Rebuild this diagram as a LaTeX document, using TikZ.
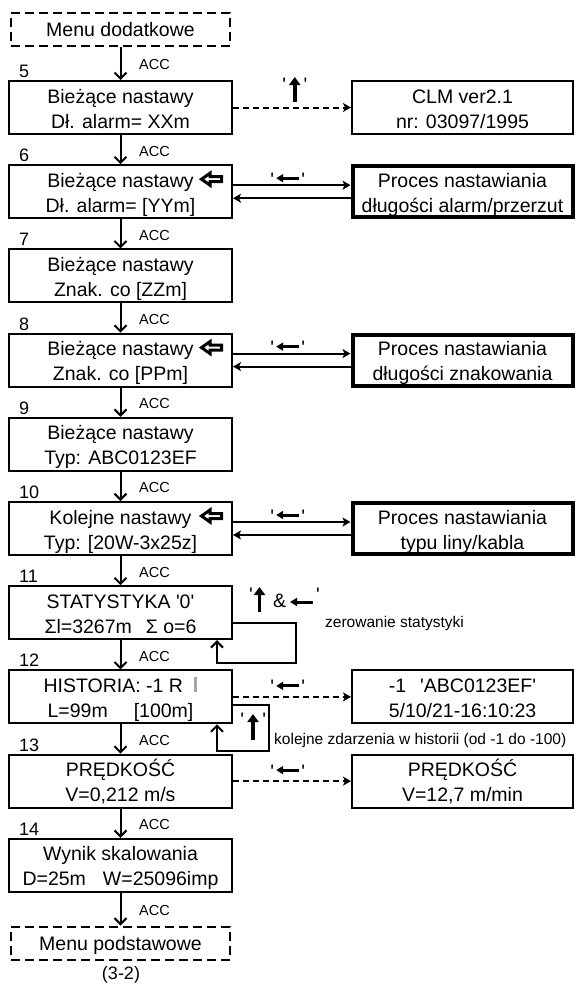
\documentclass[tikz,border=0pt]{standalone}
\usepackage{fontspec}
\setmainfont{Liberation Sans}
\usetikzlibrary{arrows.meta,calc}

\newcommand\sq{\textquotesingle}
% two display lines with fixed vertical metrics
\newcommand\twolines[2]{\raisebox{0pt}[16pt][0pt]{#1}\\\raisebox{0pt}[\height][0pt]{#2}}
\newcommand\oneline[1]{\raisebox{0pt}[14.2pt][0pt]{#1}}

\tikzset{
  screen/.style={draw, line width=2pt, minimum width=223pt, minimum height=53pt,
    inner sep=0pt, align=center, font=\fontsize{19.5}{25}\selectfont},
  rscreen/.style={screen, minimum width=221pt},
  procbox/.style={screen, line width=4pt, minimum width=220pt, minimum height=51pt},
  menubox/.style={screen, dash pattern=on 9pt off 5pt, minimum width=219pt, minimum height=33pt},
  acclbl/.style={anchor=west, font=\fontsize{14.5}{17}\selectfont, inner sep=0pt},
  numlbl/.style={anchor=base west, font=\fontsize{18}{20}\selectfont, inner sep=0pt},
  notelbl/.style={anchor=west, font=\fontsize{15.5}{18}\selectfont, inner sep=0pt},
  quotelbl/.style={anchor=base west, font=\fontsize{19.5}{22}\selectfont, inner sep=0pt},
  accarrow/.style={line width=2pt, -{Straight Barb[length=6pt,width=12pt]}},
  sidearrow/.style={line width=2pt, -{Stealth[length=8pt,width=9pt,inset=2pt]}},
  dotarrow/.style={sidearrow, dash pattern=on 6pt off 4pt},
  looparrow/.style={line width=2pt, -{Straight Barb[length=6pt,width=12pt]}},
  keyup/.style={line width=3.5pt, -{Triangle[length=8pt,width=11pt]}},
  keyleft/.style={line width=3pt, -{Triangle[length=7pt,width=8pt]}},
  editmark/.style={line width=3pt, fill=white, line join=miter},
}

\begin{document}
\begin{tikzpicture}[x=1pt,y=-1pt]
\fill[white] (0,0) rectangle (576,985);
\useasboundingbox (0,0) rectangle (576,985);

% main menu column
\node[menubox] (m1) at (120.5,29.5) {\oneline{Menu dodatkowe}};
\node[screen] (b5) at (120.5,107.5) {\twolines{Bieżące nastawy}{Dł. alarm= XXm}};
\node[screen] (b6) at (120.5,191.7) {\twolines{Bieżące nastawy}{Dł. alarm= [YYm]}};
\node[screen] (b7) at (120.5,275.9) {\twolines{Bieżące nastawy}{Znak. co [ZZm]}};
\node[screen] (b8) at (120.5,360.1) {\twolines{Bieżące nastawy}{Znak. co [PPm]}};
\node[screen] (b9) at (120.5,444.3) {\twolines{Bieżące nastawy}{Typ: ABC0123EF}};
\node[screen] (b10) at (120.5,528.5) {\twolines{Kolejne nastawy}{Typ: [20W-3x25z]}};
\node[screen] (b11) at (120.5,612.7) {\twolines{STATYSTYKA \sq0\sq}{Σl=3267m\hspace{14pt}Σ o=6}};
\node[screen] (b12) at (120.5,696.9) {\twolines{HISTORIA: -1 R\hspace{11pt}{\color{gray!70}\rule{3.5pt}{15pt}}}{L=99m\hspace{26pt}[100m]}};
\node[screen] (b13) at (120.5,781.1) {\twolines{PRĘDKOŚĆ}{V=0,212 m/s}};
\node[screen] (b14) at (120.5,865.3) {\twolines{Wynik skalowania}{D=25m\hspace{17pt}W=25096imp}};
\node[menubox] (m2) at (120.5,943) {\oneline{Menu podstawowe}};
\node[inner sep=0pt, font=\fontsize{18}{20}\selectfont] (ref) at (121,975) {(3-2)};

% screen numbers
\node[numlbl] (n5) at (19,77.5) {5};
\node[numlbl] (n6) at (19,161.7) {6};
\node[numlbl] (n7) at (19,245.9) {7};
\node[numlbl] (n8) at (19,330.1) {8};
\node[numlbl] (n9) at (19,414.3) {9};
\node[numlbl] (n10) at (19,498.5) {10};
\node[numlbl] (n11) at (19,582.7) {11};
\node[numlbl] (n12) at (19,666.9) {12};
\node[numlbl] (n13) at (19,751.1) {13};
\node[numlbl] (n14) at (19,835.3) {14};

% ACC transitions
\draw[accarrow] (m1.south) -- (b5.north);
\draw[accarrow] (b5.south) -- (b6.north);
\draw[accarrow] (b6.south) -- (b7.north);
\draw[accarrow] (b7.south) -- (b8.north);
\draw[accarrow] (b8.south) -- (b9.north);
\draw[accarrow] (b9.south) -- (b10.north);
\draw[accarrow] (b10.south) -- (b11.north);
\draw[accarrow] (b11.south) -- (b12.north);
\draw[accarrow] (b12.south) -- (b13.north);
\draw[accarrow] (b13.south) -- (b14.north);
\draw[accarrow] (b14.south) -- (m2.north);

\node[acclbl] (a5) at ($(m1.south)!.5!(b5.north)+(18.5,1.5)$) {ACC};
\node[acclbl] (a6) at ($(b5.south)!.5!(b6.north)+(18.5,1.5)$) {ACC};
\node[acclbl] (a7) at ($(b6.south)!.5!(b7.north)+(18.5,1.5)$) {ACC};
\node[acclbl] (a8) at ($(b7.south)!.5!(b8.north)+(18.5,1.5)$) {ACC};
\node[acclbl] (a9) at ($(b8.south)!.5!(b9.north)+(18.5,1.5)$) {ACC};
\node[acclbl] (a10) at ($(b9.south)!.5!(b10.north)+(18.5,1.5)$) {ACC};
\node[acclbl] (a11) at ($(b10.south)!.5!(b11.north)+(18.5,1.5)$) {ACC};
\node[acclbl] (a12) at ($(b11.south)!.5!(b12.north)+(18.5,1.5)$) {ACC};
\node[acclbl] (a13) at ($(b12.south)!.5!(b13.north)+(18.5,1.5)$) {ACC};
\node[acclbl] (a14) at ($(b13.south)!.5!(b14.north)+(18.5,1.5)$) {ACC};
\node[acclbl] (a15) at ($(b14.south)!.5!(m2.north)+(18.5,1.5)$) {ACC};

% edit markers (hollow left arrows)
\draw[editmark] ($(b6.north east)+(-31.5,15)$) -- ++(8.5,-6) -- ++(0,3.5) -- ++(11.5,0) -- ++(0,5) -- ++(-11.5,0) -- ++(0,3.5) -- cycle;
\draw[editmark] ($(b8.north east)+(-31.5,15)$) -- ++(8.5,-6) -- ++(0,3.5) -- ++(11.5,0) -- ++(0,5) -- ++(-11.5,0) -- ++(0,3.5) -- cycle;
\draw[editmark] ($(b10.north east)+(-31.5,15)$) -- ++(8.5,-6) -- ++(0,3.5) -- ++(11.5,0) -- ++(0,5) -- ++(-11.5,0) -- ++(0,3.5) -- cycle;

% side screens
\node[rscreen] (clm) at (462.5,107.5) {\twolines{CLM ver2.1}{nr: 03097/1995}};
\node[procbox] (p6) at (462.5,191.7) {\twolines{Proces nastawiania}{długości alarm/przerzut}};
\node[procbox] (p8) at (462.5,360.1) {\twolines{Proces nastawiania}{długości znakowania}};
\node[procbox] (p10) at (462.5,528.5) {\twolines{Proces nastawiania}{typu liny/kabla}};
\node[rscreen] (hist) at (462.5,696.9) {\twolines{-1\hspace{14pt}\sq ABC0123EF\sq}{5/10/21-16:10:23}};
\node[rscreen] (spd) at (462.5,781.1) {\twolines{PRĘDKOŚĆ}{V=12,7 m/min}};

% side transitions
\draw[dotarrow] (b5.east) -- (clm.west);
\draw[sidearrow] ($(b6.east)+(0,-6.5)$) -- ($(p6.west)+(0,-6.5)$);
\draw[sidearrow] ($(p6.west)+(0,6.5)$) -- ($(b6.east)+(0,6.5)$);
\draw[sidearrow] ($(b8.east)+(0,-6.5)$) -- ($(p8.west)+(0,-6.5)$);
\draw[sidearrow] ($(p8.west)+(0,6.5)$) -- ($(b8.east)+(0,6.5)$);
\draw[sidearrow] ($(b10.east)+(0,-6.5)$) -- ($(p10.west)+(0,-6.5)$);
\draw[sidearrow] ($(p10.west)+(0,6.5)$) -- ($(b10.east)+(0,6.5)$);
\draw[dotarrow] (b12.east) -- (hist.west);
\draw[dotarrow] (b13.east) -- (spd.west);

% self loops
\draw[looparrow] ($(b11.east)+(0,10)$) -- ++(63,0) -- ++(0,40) -| ($(b11.south east)+(-16,0)$);
\draw[looparrow] ($(b12.east)+(0,8)$) -- ++(36,0) -- ++(0,46) -| ($(b12.south east)+(-16,0)$);

% key hints
\node[quotelbl] (k5) at (282.1,91) {\sq\hspace{17.5pt}\sq};
\draw[keyup] ($(k5.base)+(0,11)$) -- ++(0,-25);

\node[quotelbl] (k6) at (270.1,186.2) {\sq\hspace{27.3pt}\sq};
\draw[keyleft] ($(k6.base)+(11.5,-8)$) -- ++(-23,0);
\node[quotelbl] (k8) at (270.1,354.6) {\sq\hspace{27.3pt}\sq};
\draw[keyleft] ($(k8.base)+(11.5,-8)$) -- ++(-23,0);
\node[quotelbl] (k10) at (270.1,523) {\sq\hspace{27.3pt}\sq};
\draw[keyleft] ($(k10.base)+(11.5,-8)$) -- ++(-23,0);
\node[quotelbl] (k12) at (270.1,693.9) {\sq\hspace{27.3pt}\sq};
\draw[keyleft] ($(k12.base)+(11.5,-8)$) -- ++(-23,0);
\node[quotelbl] (k13) at (270.1,778.1) {\sq\hspace{27.3pt}\sq};
\draw[keyleft] ($(k13.base)+(11.5,-8)$) -- ++(-23,0);

\node[quotelbl] (k11) at (249,601) {\sq\hspace{20.3pt}\raisebox{-6pt}{\&}\hspace{30pt}\sq};
\draw[keyup] ($(k11.base west)+(10.5,11)$) -- ++(0,-25);
\draw[keyleft] ($(k11.base west)+(64,1)$) -- ++(-23,0);

\node[quotelbl] (k12u) at (240.1,726.7) {\sq\hspace{18.3pt}\sq};
\draw[keyup] ($(k12u.base west)+(12.9,13.3)$) -- ++(0,-26);

% notes
\node[notelbl] (t11) at (325,623) {zerowanie statystyki};
\node[notelbl] (t12) at (274,740) {kolejne zdarzenia w historii (od -1 do -100)};
\end{tikzpicture}
\end{document}
